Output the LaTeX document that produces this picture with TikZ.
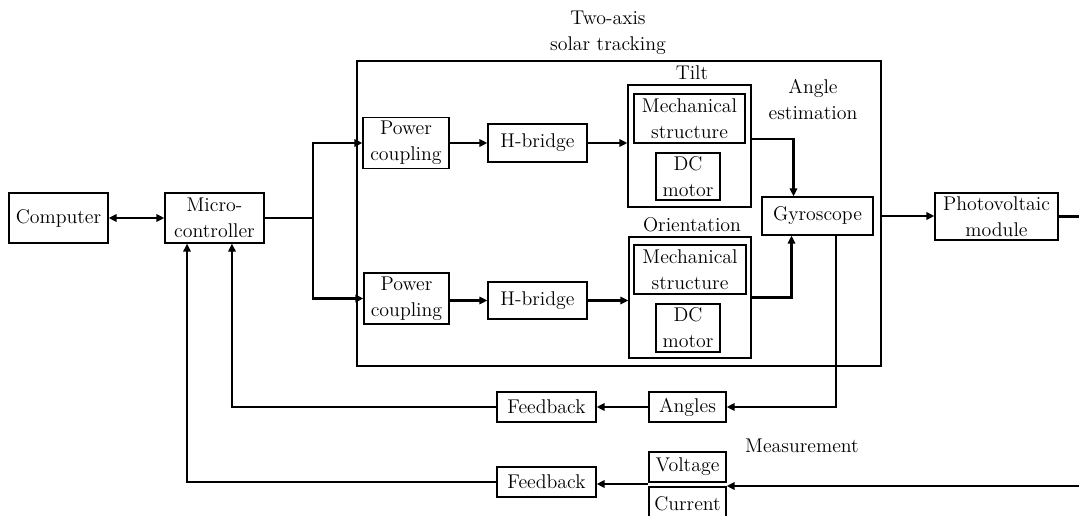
\documentclass[tikz,border=0pt]{standalone}
\usepackage{tikz}
\usetikzlibrary{arrows.meta}

\tikzset{
  blk/.style={draw, line width=0.9pt, inner sep=1pt, align=center},
  sz/.style 2 args={minimum width=#1*0.75pt, minimum height=#2*0.75pt},
  lbl/.style={align=center, inner sep=0pt},
  wire/.style={line width=1.8pt},
  >={Triangle[length=6pt,width=5.5pt]},
}

\begin{document}
\begin{tikzpicture}[x=0.75pt, y=-0.75pt, font=\fontsize{14.9}{19.5}\selectfont]
        \useasboundingbox (0,0) rectangle (1079,516);

        % frame of the tracking part
        \node[blk, sz={524}{305}] (sys) at (619,213.5) {};
        \node[lbl] (lbltrack) at (608,33) {Two-axis\\solar tracking};
        \node[lbl] (lblangle) at (813,100) {Angle\\estimation};
        \node[lbl] (lbltilt) at (692,73) {Tilt};
        \node[lbl] (lblorient) at (692,225) {Orientation};
        \node[lbl] (lblmeas) at (802,446) {Measurement};

        \node[blk, sz={99}{50}] (comp) at (58.5,218) {Computer};
        \node[blk, sz={99}{50}] (mcu) at (214.5,218) {Micro-\\controller};

        \node[blk, sz={86}{51}] (pc1) at (406,143) {Power\\coupling};
        \node[blk, sz={99}{38}] (hb1) at (537.5,143) {H-bridge};
        \node[blk, sz={123}{122}] (tilt) at (689.5,146) {};
        \node[blk, sz={111}{49}] (mech1) at (689.5,118.5) {Mechanical\\structure};
        \node[blk, sz={64}{47}] (dc1) at (688,176.5) {DC\\motor};

        \node[blk, sz={85}{51}] (pc2) at (406.5,298.5) {Power\\coupling};
        \node[blk, sz={99}{37}] (hb2) at (537.5,300.5) {H-bridge};
        \node[blk, sz={122}{121}] (orient) at (690,297.5) {};
        \node[blk, sz={112}{49}] (mech2) at (690,269.5) {Mechanical\\structure};
        \node[blk, sz={64}{48}] (dc2) at (688,328) {DC\\motor};

        \node[blk, sz={111}{38}] (gyro) at (817.5,216) {Gyroscope};
        \node[blk, sz={123}{47}] (pv) at (996.5,216.5) {Photovoltaic\\module};

        \node[blk, sz={99}{30}] (fb1) at (546.5,407) {Feedback};
        \node[blk, sz={77}{30}] (ang) at (687.5,407) {Angles};
        \node[blk, sz={99}{30}] (fb2) at (546.5,482) {Feedback};
        \node[blk, sz={77}{30}] (volt) at (687.5,467) {Voltage};
        \node[blk, sz={77}{33}] (curr) at (687.5,503.5) {Current};

        \coordinate (split) at (313,218);
        \coordinate (pvout) at (1079,216.5);
        \coordinate (measin) at (1079,486);

        % forward path
        \draw[wire, <->] (comp) -- (mcu);
        \draw[wire] (mcu.east) -- (split);
        \draw[wire, ->] (split) |- (pc1.west);
        \draw[wire, ->] (split) |- (pc2.west);
        \draw[wire, ->] (pc1) -- (hb1);
        \draw[wire, ->] (hb1) -- (hb1 -| tilt.west);
        \draw[wire, ->] (pc2.east |- hb2) -- (hb2);
        \draw[wire, ->] (hb2) -- (hb2 -| orient.west);
        \draw[wire, ->] ([yshift=5.25pt]tilt.east) -| ([xshift=-18pt]gyro.north);
        \draw[wire, ->] (orient.east) -| ([xshift=-19.5pt]gyro.south);
        \draw[wire, ->] (sys.east |- gyro) -- (gyro -| pv.west);
        \draw[wire] (pv.east) -- (pvout);

        % feedback paths
        \draw[wire, ->] ([xshift=13.9pt]gyro.south) |- (ang.east);
        \draw[wire, ->] (ang) -- (fb1);
        \draw[wire, ->] (fb1.west) -| ([xshift=13.1pt]mcu.south);
        \draw[wire, ->] (measin) -- (measin -| volt.east);
        \draw[wire, ->] ([yshift=-1.5pt]fb2.east -| volt.west) -- ([yshift=-1.5pt]fb2.east);
        \draw[wire, ->] (fb2.west) -| ([xshift=-20.6pt]mcu.south);
\end{tikzpicture}
\end{document}
